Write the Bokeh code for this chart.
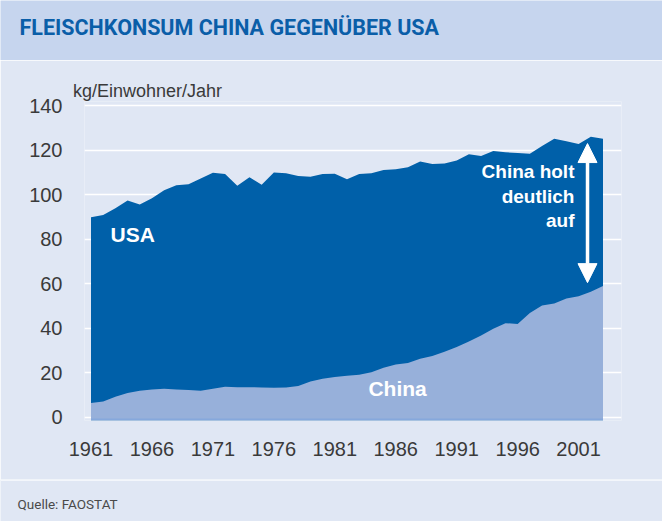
from bokeh.plotting import figure
from bokeh.models import Range1d, FixedTicker, Label, Arrow, NormalHead, ColumnDataSource, Title
from bokeh.layouts import column
from bokeh.embed import file_html
from bokeh.resources import INLINE

# ---------------- data ----------------
years = list(range(1961, 2004))
usa = [90.0, 91.0, 94.0, 97.5, 95.7, 98.5, 102.1, 104.4, 104.8, 107.4,
       110.0, 109.4, 104.1, 108.0, 104.6, 110.1, 109.8, 108.5, 108.2, 109.4,
       109.5, 107.1, 109.4, 109.8, 111.2, 111.6, 112.5, 115.0, 113.9, 114.1,
       115.5, 118.3, 117.5, 119.8, 119.2, 118.9, 118.5, 122.0, 125.3, 124.1,
       122.9, 126.2, 125.3]
china = [6.5, 7.2, 9.3, 11.0, 12.0, 12.6, 12.9, 12.6, 12.3, 12.0,
         12.9, 13.8, 13.6, 13.6, 13.5, 13.4, 13.5, 14.2, 16.2, 17.4,
         18.2, 18.8, 19.2, 20.3, 22.4, 23.8, 24.5, 26.4, 27.6, 29.5,
         31.7, 34.2, 36.8, 39.9, 42.4, 42.0, 47.0, 50.3, 51.2, 53.5,
         54.5, 56.5, 59.1]
x_ticks = [1961, 1966, 1971, 1976, 1981, 1986, 1991, 1996, 2001]
y_ticks = [0, 20, 40, 60, 80, 100, 120, 140]

title_text = "FLEISCHKONSUM CHINA GEGENÜBER USA"
unit_text = "kg/Einwohner/Jahr"
source_text = "Quelle: FAOSTAT"
label_usa = "USA"
label_china = "China"
note_lines = ["China holt", "deutlich", "auf"]

# ---------------- style ----------------
W = 662
BG = "#E0E7F4"
HEAD_BG = "#C6D5EE"
TITLE_C = "#0A5EA8"
USA_C = "#0060A9"
CHINA_C = "#97B0DA"
TXT = "#3A3A3A"
FONT = "Liberation Sans"
COND = "Roboto"

# ---------------- header ----------------
header = figure(width=W, height=60, x_range=Range1d(0, W), y_range=Range1d(0, 60),
                toolbar_location=None, output_backend="svg", min_border=0,
                x_axis_type=None, y_axis_type=None,
                background_fill_color=HEAD_BG, border_fill_color=HEAD_BG,
                outline_line_color=None)
header.frame_align = False
header.grid.visible = False
header.add_layout(Label(x=19, y=33.5, text=title_text, text_font=COND,
                        text_font_style="bold", text_font_size="21.5px",
                        text_color=TITLE_C, text_baseline="alphabetic"))

# ---------------- main chart ----------------
x0, x1 = 1960.467, 2004.518
y0, y1 = -1.35, 142.0
src = ColumnDataSource(dict(year=years, usa=usa, china=china))

p = figure(width=W, height=419, x_range=Range1d(x0, x1), y_range=Range1d(y0, y1),
           toolbar_location=None, output_backend="svg",
           min_border_left=84, min_border_right=41, min_border_top=41, min_border_bottom=59,
           background_fill_color=BG, border_fill_color=BG, outline_line_color=None)
p.frame_align = False
p.title = Title(text=unit_text, align="left", offset=-11.5, standoff=2,
                text_font=FONT, text_font_style="normal", text_font_size="18px",
                text_color=TXT)

p.varea(x="year", y1=y0, y2="usa", source=src, fill_color=USA_C)
p.varea(x="year", y1=y0, y2="china", source=src, fill_color=CHINA_C)
p.line(x="year", y=y0 + 0.6, source=src, line_color="#86A8DC", line_width=1.5)

p.xaxis.ticker = FixedTicker(ticks=x_ticks)
p.yaxis.ticker = FixedTicker(ticks=y_ticks)
for ax in (p.xaxis[0], p.yaxis[0]):
    ax.axis_line_color = None
    ax.major_tick_line_color = None
    ax.minor_tick_line_color = None
    ax.major_tick_in = 0
    ax.major_tick_out = 0
    ax.major_label_text_font = FONT
    ax.major_label_text_font_size = "20px"
    ax.major_label_text_color = TXT
p.xaxis.major_label_standoff = 21
p.yaxis.major_label_standoff = 22
p.xgrid.visible = False
p.ygrid.grid_line_color = "white"
p.ygrid.grid_line_width = 1.5

p.add_layout(Label(x=1962.6, y=82.2, text=label_usa, text_font=FONT, text_font_style="bold",
                   text_font_size="21px", text_color="white", text_baseline="alphabetic"))
p.add_layout(Label(x=1983.76, y=13.0, text=label_china, text_font=FONT, text_font_style="bold",
                   text_font_size="21px", text_color="white", text_baseline="alphabetic"))
for txt, yy in zip(note_lines, [110.5, 99.2, 88.5]):
    p.add_layout(Label(x=2000.66, y=yy, text=txt, text_font=FONT, text_font_style="bold",
                       text_font_size="19px", text_color="white", text_align="right",
                       text_baseline="alphabetic"))

p.add_layout(Arrow(x_start=2001.73, y_start=60.6, x_end=2001.73, y_end=123.1,
                   line_color="white", line_width=3.5,
                   start=NormalHead(size=19, fill_color="white", line_color="white"),
                   end=NormalHead(size=19, fill_color="white", line_color="white")))

# ---------------- footer ----------------
footer = figure(width=W, height=42, x_range=Range1d(0, W), y_range=Range1d(0, 42),
                toolbar_location=None, output_backend="svg", min_border=0,
                x_axis_type=None, y_axis_type=None,
                background_fill_color=BG, border_fill_color=BG, outline_line_color=None)
footer.frame_align = False
footer.grid.visible = False
footer.segment(x0=0, y0=41.3, x1=W, y1=41.3, line_color="#F3F6FB", line_width=1.5)
footer.add_layout(Label(x=17, y=18.0, text=source_text, text_font=COND,
                        text_font_size="13.5px", text_color="#4A4A4A", text_baseline="alphabetic"))

layout = column(header, p, footer, spacing=0)
open("out.html", "w").write(file_html(layout, INLINE))
